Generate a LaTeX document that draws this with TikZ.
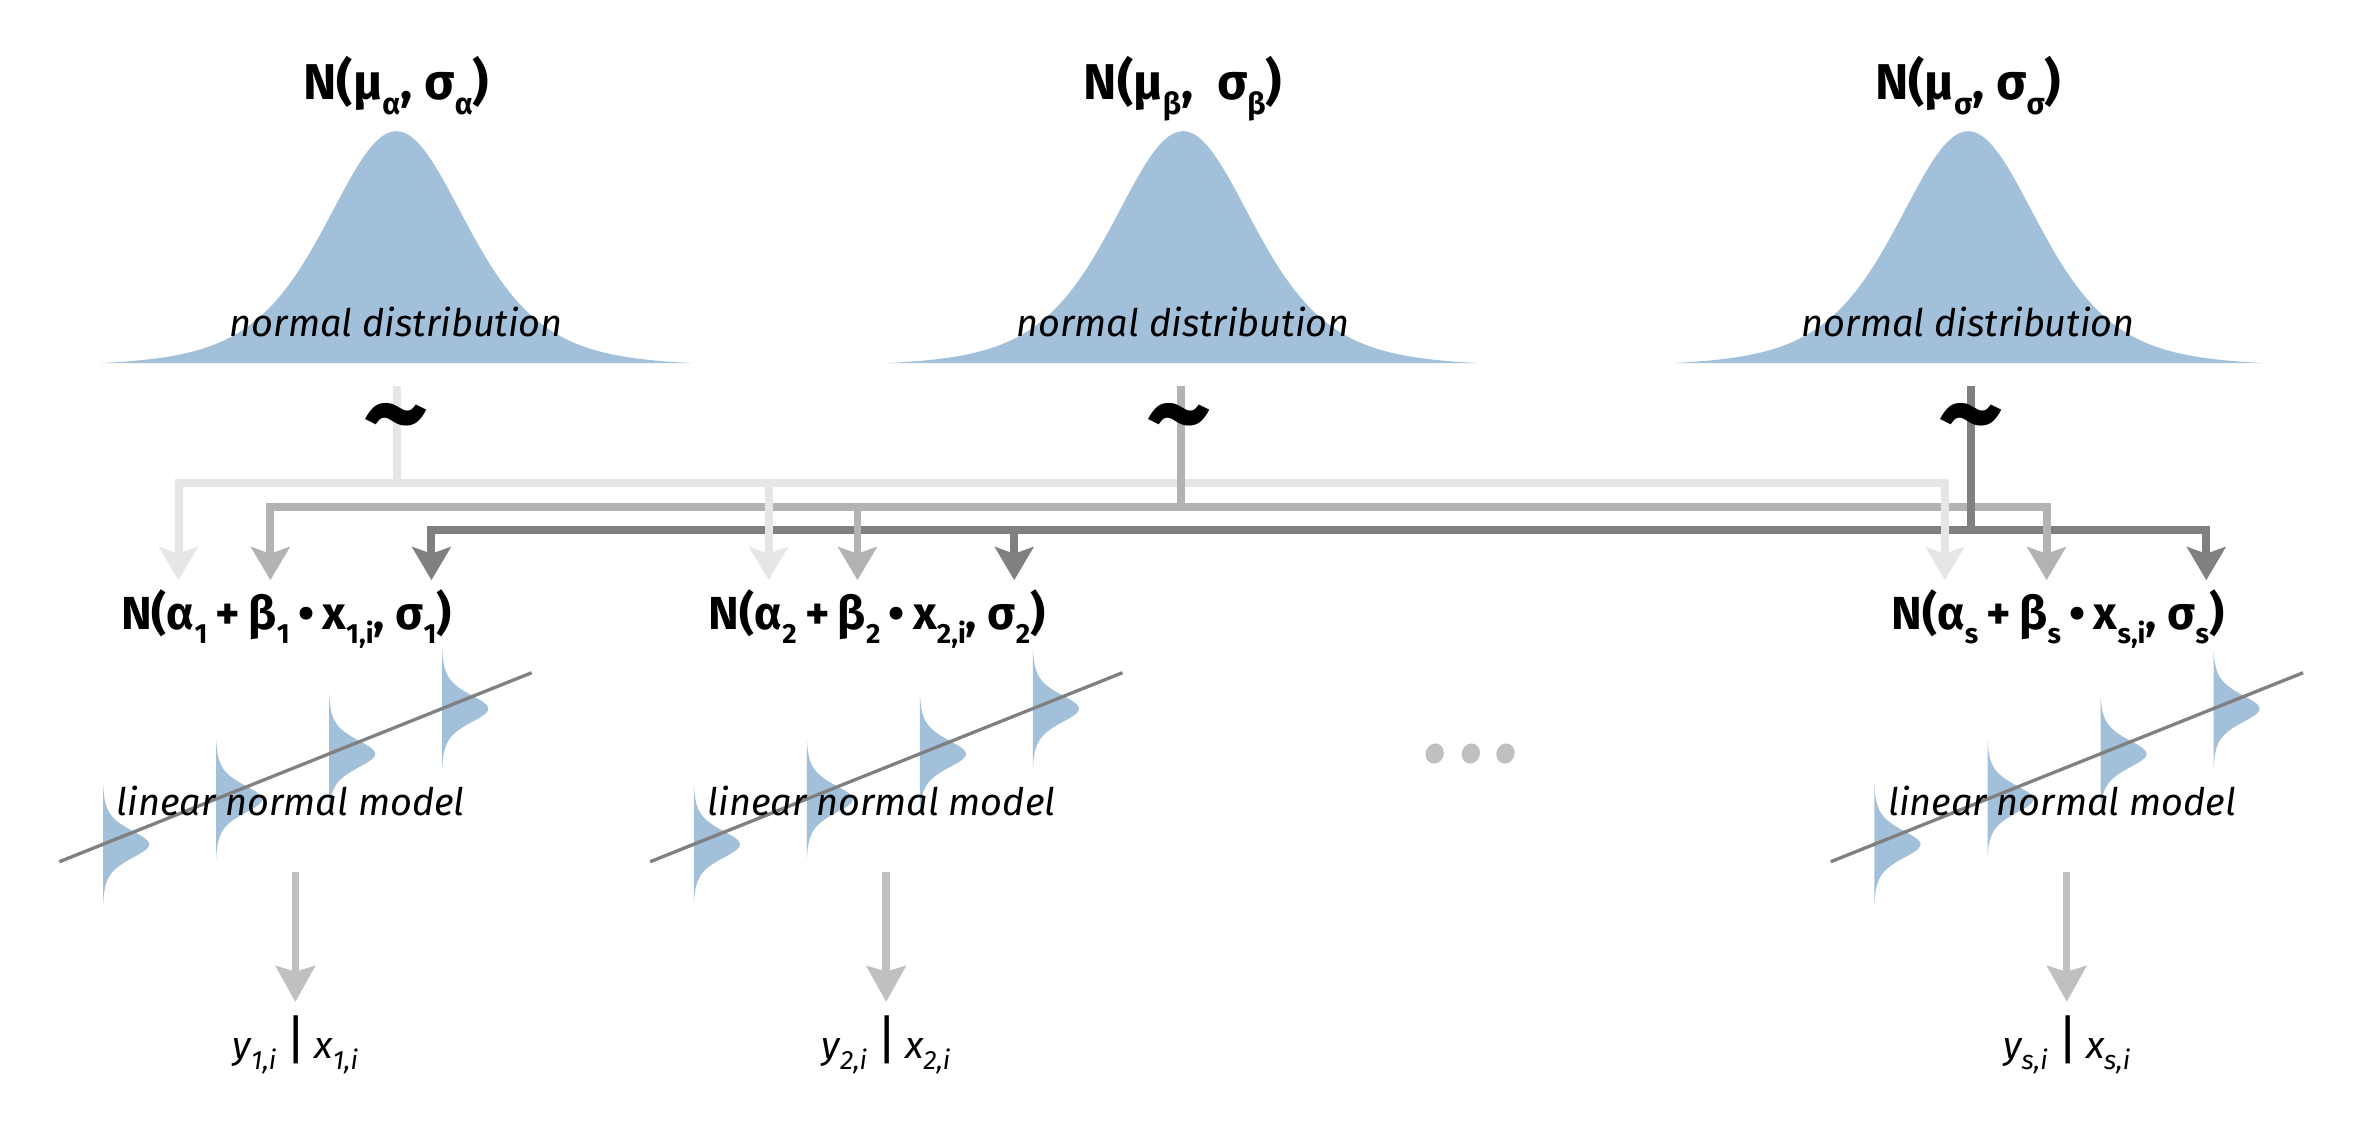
\documentclass[tikz,border=0pt]{standalone}
\usepackage{fontspec}
\setmainfont{Fira Sans}
\usepackage{graphicx}
\usetikzlibrary{arrows.meta,positioning,calc}

\definecolor{bellblue}{RGB}{162,192,218}
\definecolor{alphagray}{RGB}{230,230,230}
\definecolor{betagray}{RGB}{179,179,179}
\definecolor{sigmagray}{RGB}{128,128,128}
\definecolor{downgray}{RGB}{192,192,192}
\definecolor{trendgray}{RGB}{128,128,128}

\newcommand{\lo}[2][.6]{\raisebox{-.3em}{\scalebox{#1}{#2}}}
\newcommand{\gap}{\hspace{.18em}}

\begin{document}
\begin{tikzpicture}[x=0.02cm, y=-0.02cm,
  param/.style={font=\fontsize{19}{22}\selectfont\bfseries, inner sep=0pt, anchor=base},
  model/.style={font=\fontsize{17.5}{20}\selectfont\bfseries, inner sep=0pt, anchor=base},
  caption/.style={font=\fontsize{14.3}{18}\selectfont\itshape, inner sep=0pt, anchor=base},
  tilde/.style={font=\fontsize{48}{48}\selectfont\bfseries, inner sep=0pt},
  bus/.style={line width=3pt, line cap=rect},
  drop/.style={-{Stealth[length=12.5pt, width=14.5pt, inset=2.5pt]}},
  down/.style={draw=downgray, line width=2.8pt, -{Stealth[length=13.5pt, width=14.7pt, inset=2.1pt]}},
  trend/.style={draw=trendgray, line width=1.25pt}]
\useasboundingbox (0,0) rectangle (1568,751);

\foreach \cx/\nm/\lab in {263/pa/{N(μ\lo{α}, σ\lo{α})}, 785/pb/{N(μ\lo{β},\ \ σ\lo{β})}, 1306/ps/{N(μ\lo{σ}, σ\lo{σ})}}{
  \fill[bellblue] plot[domain=-196:196, samples=121] ({\cx+\x},{243-156/((1+(\x/49)*(\x/49)/5)^3)}) -- cycle;
  \node[caption] (nd\nm) at (\cx,223.4) {normal distribution};
  \node[param] (\nm) at (\cx,65.7) {\lab};
}

\coordinate (srcA) at (263.2,258.6);
\coordinate (srcB) at (783.4,258.6);
\coordinate (srcS) at (1307.8,258.6);
\coordinate (busA) at (0,320.7);
\coordinate (busB) at (0,336.2);
\coordinate (busS) at (0,351.7);
\foreach \nm/\x in {A1/118.5, A2/510, A3/1290.5, B1/179.4, B2/569, B3/1358, S1/286.3, S2/673, S3/1464}
  \coordinate (\nm) at (\x,385);

\foreach \p/\col in {A/alphagray, B/betagray, S/sigmagray}
  \draw[bus,\col] (\p1 |- bus\p) -- (\p3 |- bus\p);
\foreach \p/\col in {A/alphagray, B/betagray, S/sigmagray}{
  \draw[bus,\col] (src\p) -- (src\p |- bus\p);
  \foreach \i in {1,2,3}
    \draw[bus,drop,\col] (\p\i |- bus\p) -- (\p\i);
}

\foreach \nm/\x in {tA/263.2, tB/782.5, tS/1308}
  \node[tilde] (\nm) at (\x,284.7) {\textasciitilde};

\foreach \cx/\k in {196/1, 588/2, 1371.4/s}{
  \foreach \dx in {-128,-53,22,97}
    \fill[bellblue] plot[domain=-40:40, samples=61] ({\cx+\dx+31/((1+(\x/10)*(\x/10)/5)^3)},{509.1-0.4001*\dx+\x}) -- cycle;
  \draw[trend] ({\cx-156.6},571.8) -- ({\cx+156.8},446.4);
  \node[caption] (lm\k) at ({\cx-3},541) {linear normal model};
  \node[model] (f\k) at ({\cx-6},418) {N(α\lo{\k}\gap+\gap β\lo{\k}\gap\textbullet\gap x\lo{\k,i}, σ\lo{\k})};
  \node[caption] (y\k) at (\cx,702.3) {y\lo[.7]{\k,i}\hspace{.25em}{\upshape\fontsize{20}{20}\selectfont|}\hspace{.2em}x\lo[.7]{\k,i}};
  \coordinate (m\k) at (\cx,578.6);
  \draw[down] (m\k) -- ([yshift=5pt]y\k.north);
}

\foreach \x in {952,976,999}
  \fill[downgray, shift={(\x,500)}, rotate=-20] (0,0) ellipse (6 and 6.8);
\end{tikzpicture}
\end{document}
